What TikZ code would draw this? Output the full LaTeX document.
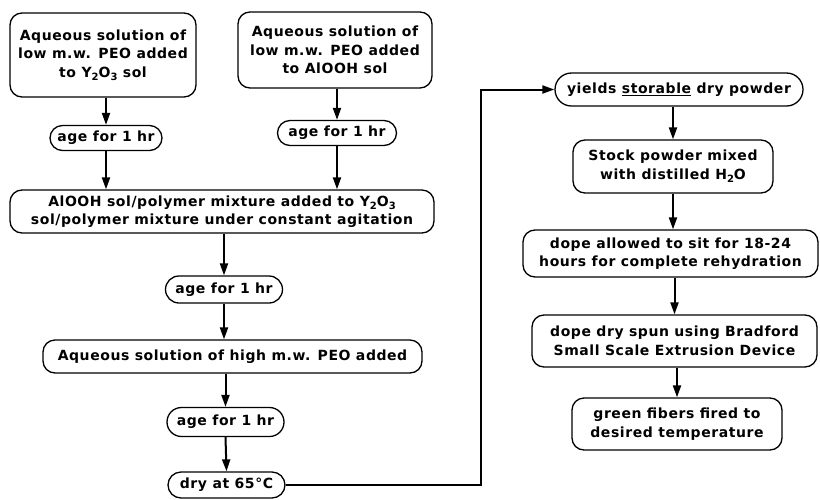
\documentclass[tikz,border=0pt]{standalone}
\usepackage{fontspec}
\setmainfont{DejaVu Sans}[LetterSpace=4]
\usetikzlibrary{arrows.meta,shapes.misc}
\newcommand{\mysub}[1]{\raisebox{-3.5pt}{\fontsize{10pt}{10pt}\selectfont #1}}
\tikzset{
  every node/.style={font=\bfseries\fontsize{14pt}{18.5pt}\selectfont},
  box/.style={draw, line width=1.3pt, rounded corners=12pt, align=center, inner xsep=2pt, inner ysep=0pt},
  pill/.style={draw, line width=1.3pt, rounded rectangle, align=center, inner xsep=2pt, inner ysep=0pt},
  conn/.style={line width=2pt, -{Triangle[length=12pt,width=8pt]}}
}
\begin{document}
\begin{tikzpicture}[x=1pt,y=-1pt]
\useasboundingbox (0,0) rectangle (820,499);
% left column
\node[box, minimum width=186pt, minimum height=84pt] (a1) at (103,55)
  {Aqueous solution of\\low m.w. PEO added\\to Y\mysub{2}O\mysub{3} sol};
\node[box, minimum width=194pt, minimum height=76pt] (a2) at (335,50)
  {Aqueous solution of\\low m.w. PEO added\\to AlOOH sol};
\node[pill, minimum width=116pt, minimum height=25pt] (g1) at (106,138) {age for 1 hr};
\node[pill, minimum width=123pt, minimum height=25pt] (g2) at (337,133) {age for 1 hr};
\node[box, minimum width=424pt, minimum height=43pt] (mix) at (222,211.5)
  {AlOOH sol/polymer mixture added to Y\mysub{2}O\mysub{3}\\sol/polymer mixture under constant agitation};
\node[pill, minimum width=121pt, minimum height=27pt] (g3) at (224,289.5) {age for 1 hr};
\node[box, minimum width=379pt, minimum height=33pt] (high) at (232.5,356.5)
  {Aqueous solution of high m.w. PEO added};
\node[pill, minimum width=121pt, minimum height=29pt] (g4) at (225.5,422) {age for 1 hr};
\node[pill, minimum width=121pt, minimum height=26pt] (dry) at (226.5,485) {dry at 65°C};
% right column
\node[pill, minimum width=252pt, minimum height=33pt] (yld) at (679,89.5)
  {yields \underline{storable} dry powder};
\node[box, minimum width=200pt, minimum height=53pt] (stock) at (673,166.5)
  {Stock powder mixed\\with distilled H\mysub{2}O};
\node[box, minimum width=295pt, minimum height=47pt] (rehyd) at (670.5,253.5)
  {dope allowed to sit for 18-24\\hours for complete rehydration};
\node[box, minimum width=285pt, minimum height=52pt] (spun) at (674.5,341)
  {dope dry spun using Bradford\\Small Scale Extrusion Device};
\node[box, minimum width=210pt, minimum height=52pt] (green) at (677,424)
  {green fibers fired to\\desired temperature};
% connectors
\draw[conn] (a1.south -| g1.north) -- (g1.north);
\draw[conn] (a2.south -| g2.north) -- (g2.north);
\draw[conn] (g1.south) -- (g1.south |- mix.north);
\draw[conn] (g2.south) -- (g2.south |- mix.north);
\draw[conn] (mix.south -| g3.north) -- (g3.north);
\draw[conn] (g3.south) -- (g3.south |- high.north);
\draw[conn] (high.south -| g4.north) -- (g4.north);
\draw[conn] (g4.south) -- (dry.north);
\coordinate (c1) at (481,485);
\draw[conn] (dry.east) -- (c1) |- (yld.west);
\draw[conn] (yld.south -| stock.north) -- (stock.north);
\draw[conn] (stock.south) -- (stock.south |- rehyd.north);
\draw[conn] (rehyd.south -| spun.north) -- (spun.north);
\draw[conn] (spun.south -| green.north) -- (green.north);
\end{tikzpicture}
\end{document}
